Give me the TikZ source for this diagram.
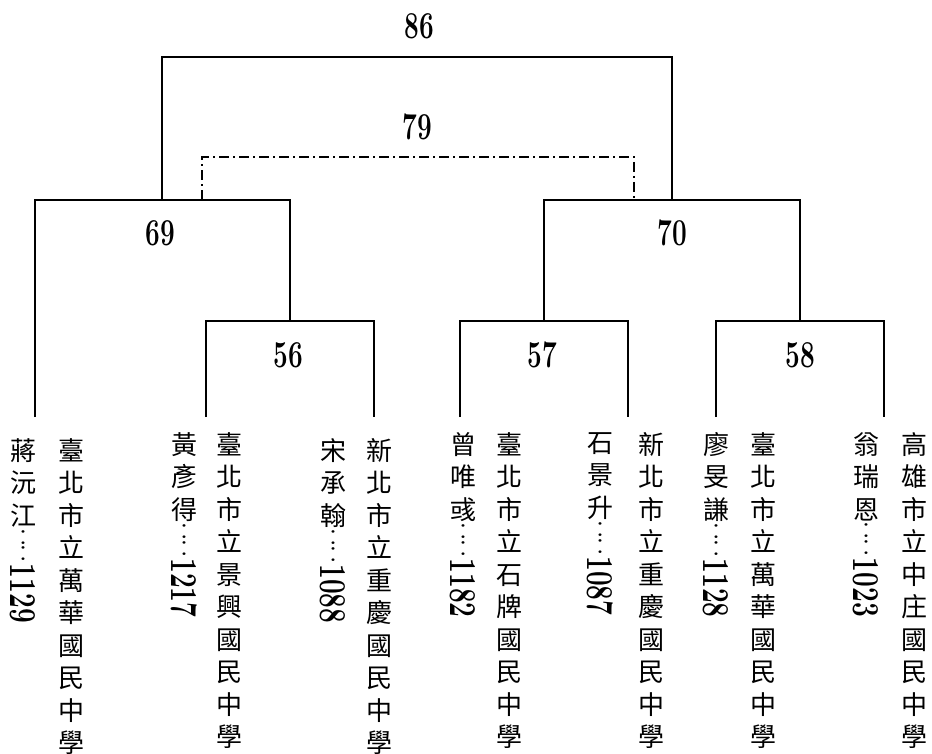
\documentclass[tikz,border=0pt]{standalone}
\usepackage{fontspec}
\usepackage{graphicx}
\usetikzlibrary{positioning}
\newfontfamily\cjk{Noto Sans CJK TC}
\newcommand{\numtxt}[1]{\scalebox{0.69}[1]{\bfseries #1}}
\newcommand{\vcolon}{\scalebox{1}[0.85]{:}}
\newcommand{\idtxt}[1]{\shortstack{\vcolon\\\vcolon\\\rotatebox{-90}{\numtxt{#1}}}}

\begin{document}
\begin{tikzpicture}[x=1pt, y=-1pt,
    cjkcol/.style={align=center, inner sep=0pt, font=\cjk\fontsize{26}{32.5}\selectfont},
    idcol/.style={inner sep=0pt, font=\fontsize{38}{40}\selectfont},
    score/.style={inner sep=0pt, font=\fontsize{38}{40}\selectfont},
    bracket/.style={line width=1.5pt},
    dashdotline/.style={line width=1.5pt, dash pattern=on 10pt off 4pt on 2pt off 4pt}]
        \useasboundingbox (0,0) rectangle (932,754);

        % Players
        \node[cjkcol, anchor=north] (n1) at (23,438) {蔣\\沅\\江};
        \node[cjkcol, anchor=north] (n2) at (184,432) {黃\\彥\\得};
        \node[cjkcol, anchor=north] (n3) at (333,438) {宋\\承\\翰};
        \node[cjkcol, anchor=north] (n4) at (463,432) {曾\\唯\\彧};
        \node[cjkcol, anchor=north] (n5) at (600,432) {石\\景\\升};
        \node[cjkcol, anchor=north] (n6) at (716,432) {廖\\旻\\謙};
        \node[cjkcol, anchor=north] (n7) at (866,432) {翁\\瑞\\恩};

        \node[idcol, below=3pt of n1] (i1) {\idtxt{1129}};
        \node[idcol, below=3pt of n2] (i2) {\idtxt{1217}};
        \node[idcol, below=3pt of n3] (i3) {\idtxt{1088}};
        \node[idcol, below=3pt of n4] (i4) {\idtxt{1182}};
        \node[idcol, below=3pt of n5] (i5) {\idtxt{1087}};
        \node[idcol, below=3pt of n6] (i6) {\idtxt{1128}};
        \node[idcol, below=3pt of n7] (i7) {\idtxt{1023}};

        % Schools
        \node[cjkcol, anchor=north] (s1) at (71,438) {臺\\北\\市\\立\\萬\\華\\國\\民\\中\\學};
        \node[cjkcol, anchor=north] (s2) at (229,432) {臺\\北\\市\\立\\景\\興\\國\\民\\中\\學};
        \node[cjkcol, anchor=north] (s3) at (379,438) {新\\北\\市\\立\\重\\慶\\國\\民\\中\\學};
        \node[cjkcol, anchor=north] (s4) at (509,432) {臺\\北\\市\\立\\石\\牌\\國\\民\\中\\學};
        \node[cjkcol, anchor=north] (s5) at (651,432) {新\\北\\市\\立\\重\\慶\\國\\民\\中\\學};
        \node[cjkcol, anchor=north] (s6) at (763,432) {臺\\北\\市\\立\\萬\\華\\國\\民\\中\\學};
        \node[cjkcol, anchor=north] (s7) at (914,432) {高\\雄\\市\\立\\中\\庄\\國\\民\\中\\學};

        % Scores
        \node[score] (m86) at (419,26) {\numtxt{86}};
        \node[score] (m79) at (417,127) {\numtxt{79}};
        \node[score] (m69) at (160,233) {\numtxt{69}};
        \node[score] (m70) at (672,233) {\numtxt{70}};
        \node[score] (m56) at (288,355) {\numtxt{56}};
        \node[score] (m57) at (542,355) {\numtxt{57}};
        \node[score] (m58) at (800,355) {\numtxt{58}};

        % Bracket points
        \coordinate (t1) at (35,417);
        \coordinate (t2) at (206,417);
        \coordinate (t3) at (374,417);
        \coordinate (t4) at (460,417);
        \coordinate (t5) at (628,417);
        \coordinate (t6) at (716,417);
        \coordinate (t7) at (884,417);
        \coordinate (j56) at (290,321);
        \coordinate (j57) at (544,321);
        \coordinate (j58) at (800,321);
        \coordinate (j69) at (162,200);
        \coordinate (j70) at (672,200);
        \coordinate (j86) at (418,57);
        \coordinate (d69) at (202,200);
        \coordinate (d70) at (634,200);
        \coordinate (j79) at (418,157);

        % Brackets
        \draw[bracket] (t2) |- (j56) -| (t3);
        \draw[bracket] (t4) |- (j57) -| (t5);
        \draw[bracket] (t6) |- (j58) -| (t7);
        \draw[bracket] (t1) |- (j69) -| (j56);
        \draw[bracket] (j57) |- (j70) -| (j58);
        \draw[bracket] (j69) |- (j86) -| (j70);
        \draw[dashdotline] (d69) |- (j79) -| (d70);
    \end{tikzpicture}
\end{document}
